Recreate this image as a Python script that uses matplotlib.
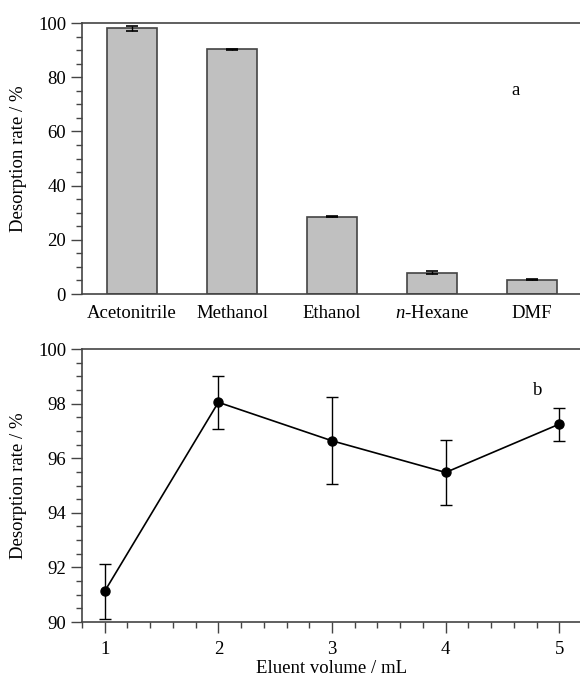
import matplotlib
matplotlib.use('Agg')
import matplotlib.pyplot as plt
from matplotlib.ticker import MultipleLocator

plt.rcParams['font.family'] = 'Liberation Serif'
plt.rcParams['mathtext.fontset'] = 'custom'
plt.rcParams['mathtext.rm'] = 'Liberation Serif'
plt.rcParams['mathtext.it'] = 'Liberation Serif:italic'
plt.rcParams['font.size'] = 13.5

# panel a: solvents
solvents = ['Acetonitrile', 'Methanol', 'Ethanol', r'$\it{n}$-Hexane', 'DMF']
rate_a = [98.1, 90.3, 28.5, 7.9, 5.3]
err_a = [0.9, 0.2, 0.2, 0.5, 0.3]

# panel b: eluent volume
volume = [1, 2, 3, 4, 5]
rate_b = [91.13, 98.05, 96.64, 95.48, 97.25]
err_b = [1.01, 0.97, 1.6, 1.18, 0.6]

edge = '#444444'

fig = plt.figure(figsize=(5.8, 6.79), dpi=100)
ax1 = fig.add_axes([0.1414, 0.567, 0.862, 0.399])
ax2 = fig.add_axes([0.1414, 0.0839, 0.862, 0.402])

pos = range(len(solvents))
ax1.bar(pos, rate_a, width=0.5, color='#c0c0c0', edgecolor=edge, linewidth=1.2,
        yerr=err_a, error_kw=dict(ecolor='black', elinewidth=1, capsize=4.5, capthick=1.2))
ax1.set_xlim(-0.5, 4.5)
ax1.set_ylim(0, 100)
ax1.set_xticks(list(pos))
ax1.set_xticklabels(solvents)
ax1.tick_params(axis='x', length=0, pad=8)
ax1.yaxis.set_major_locator(MultipleLocator(20))
ax1.yaxis.set_minor_locator(MultipleLocator(5))
ax1.set_ylabel('Desorption rate / %')
ax1.text(3.84, 75, 'a', ha='center', va='center')

ax2.errorbar(volume, rate_b, yerr=err_b, color='black', marker='o', markersize=6.5,
             linewidth=1.2, elinewidth=1, capsize=4, capthick=1)
ax2.set_xlim(0.8, 5.2)
ax2.set_ylim(90, 100)
ax2.xaxis.set_major_locator(MultipleLocator(1))
ax2.xaxis.set_minor_locator(MultipleLocator(0.2))
ax2.yaxis.set_major_locator(MultipleLocator(2))
ax2.yaxis.set_minor_locator(MultipleLocator(0.5))
ax2.set_xlabel('Eluent volume / mL', labelpad=1)
ax2.set_ylabel('Desorption rate / %')
ax2.text(4.81, 98.5, 'b', ha='center', va='center')

for ax in (ax1, ax2):
    for s in ax.spines.values():
        s.set_color(edge)
        s.set_linewidth(1.2)
    ax.tick_params(which='major', direction='out', length=8, width=1, color=edge)
    ax.tick_params(which='minor', direction='out', length=4, width=1, color=edge)
    ax.yaxis.set_label_coords(-0.11, 0.5)
ax1.tick_params(axis='x', which='both', length=0)
ax2.tick_params(axis='x', pad=6)

fig.savefig('out.png', dpi=100)
